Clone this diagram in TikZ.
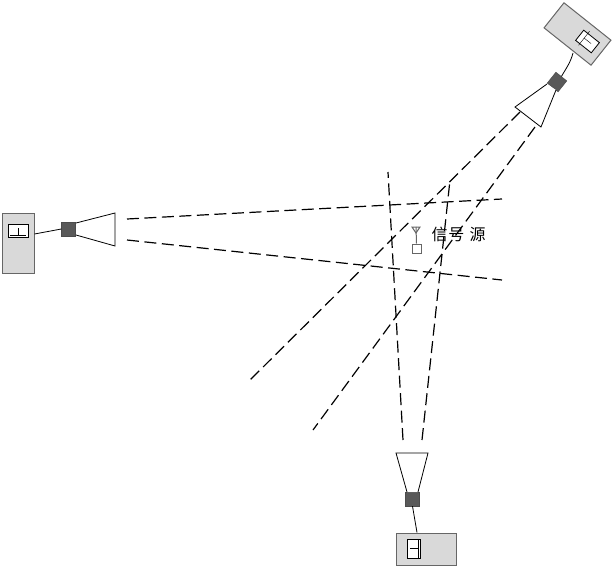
\documentclass[tikz,border=0pt]{standalone}
\usepackage{fontspec}
\usepackage{xcolor}
\usetikzlibrary{calc}
\newfontfamily\cjk{Noto Sans CJK SC}
\definecolor{casegray}{HTML}{D9D9D9}
\definecolor{headgray}{HTML}{595959}
\definecolor{edgegray}{HTML}{666666}
\tikzset{
  meter/.style={draw=edgegray,line width=1pt,fill=casegray,inner sep=0pt},
  screen/.style={draw=black,fill=white,inner sep=0pt,line width=0.8pt},
  head/.style={draw=black!70,fill=headgray,minimum size=14pt,inner sep=0pt},
  horn/.style={draw=black,fill=white,line width=0.8pt},
  beam/.style={dash pattern=on 12pt off 5.5pt,line width=1.2pt},
  wire/.style={draw=black,line width=0.8pt},
  srcbox/.style={draw=edgegray,line width=1pt,fill=white,minimum size=9pt,inner sep=0pt}
}
\begin{document}
\begin{tikzpicture}[x=1pt,y=-1pt]
\useasboundingbox (0,0) rectangle (614,568);
% beams
\foreach \xa/\ya/\xb/\yb in {127/219/502/199,127/240/502/280,520/112/250/380,535/127/313/430,403/440/388/172,422/440/450/180}{
  \draw[beam] (\xa,\ya)--(\xb,\yb);
}
% left receiver
\node[meter,minimum width=32pt,minimum height=60pt] (meterL) at (18,243) {};
\node[screen,minimum width=20pt,minimum height=13pt] (screenL) at (18,230.5) {};
\draw[black] (10,235)--(26,235) (18,228)--(18,235);
\node[head] (headL) at (68.5,229) {};
\draw[horn] (76,223)--(115,213)--(115,246)--(76,235);
\draw[wire] (meterL.east|-0,234)--(headL.west);
% right receiver
\node[meter,rotate=-38.5,minimum width=60pt,minimum height=32pt] (meterR) at (577.5,34) {};
\node[screen,rotate=-38.5,minimum width=20pt,minimum height=13pt] (screenR) at (587.5,41.5) {};
\draw[black] (589.6,31.2)--(578.6,45.2) (584,38)--(591,43.5);
\node[head,rotate=-38.5] (headR) at (557,82) {};
\draw[horn] (547,84)--(515,107)--(541,127)--(556,90);
\draw[wire] (573,53) to[out=-105,in=60] (headR.north);
% bottom receiver
\node[meter,minimum width=60pt,minimum height=32pt] (meterB) at (426,549) {};
\node[screen,minimum width=13pt,minimum height=19pt] (screenB) at (413.5,548.5) {};
\draw[black] (418.5,539)--(418.5,558) (410,548.5)--(418.5,548.5);
\node[head] (headB) at (412.5,499) {};
\draw[horn] (407,492)--(396,453)--(428,453)--(418,492);
\draw[wire] (headB.south)--(meterB.north-|417,0);
% source
\node[srcbox] (src) at (416.5,248.5) {};
\draw[edgegray,line width=1pt] (412,227)--(420,227)--(416,233)--cycle;
\draw[edgegray,line width=1pt] (416,227)--(src.north);
\node[font=\cjk\fontsize{16}{16}\selectfont,inner sep=0pt] (srcname) at (458.5,234.5) {信\kern1pt号\kern5pt源};
\end{tikzpicture}
\end{document}
